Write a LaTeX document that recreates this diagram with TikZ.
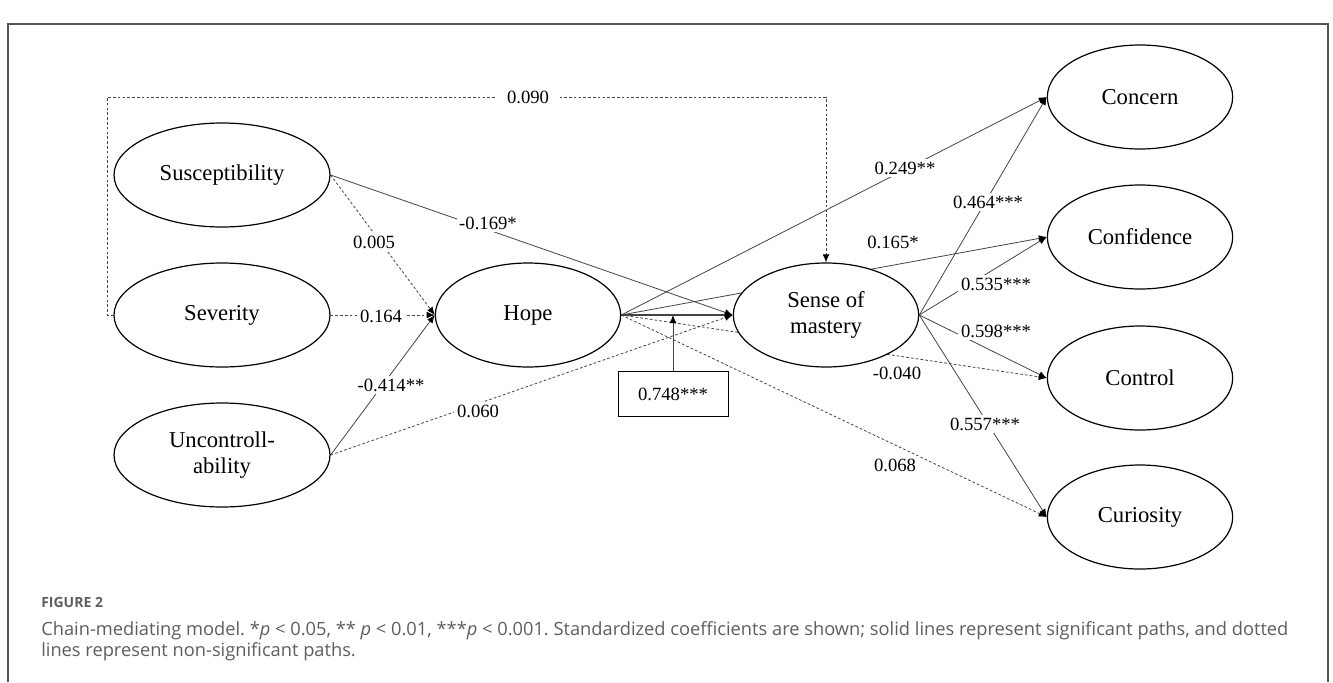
\documentclass[tikz,border=0pt]{standalone}
\usepackage{fontspec}
\setmainfont{Liberation Serif}
\newfontfamily\capfont{Open Sans}
\usetikzlibrary{shapes.geometric,arrows.meta}
\pgfdeclarelayer{paths}
\pgfsetlayers{paths,main}
\definecolor{framegray}{HTML}{555555}
\definecolor{pathgray}{HTML}{444444}
\definecolor{capgray}{HTML}{5E5E5E}
\frenchspacing
\tikzset{
	latent/.style={ellipse, draw=black, line width=0.9pt, fill=white, inner sep=0pt,
		minimum width=139pt, minimum height=78pt, align=center,
		font=\fontsize{17}{20}\selectfont},
	sigpath/.style={draw=pathgray, line width=0.6pt, -{Latex[length=6pt,width=5pt,black]}},
	nspath/.style={sigpath, dash pattern=on 2pt off 1.6pt},
	coef/.style={fill=white, inner sep=2pt, font=\fontsize{14}{16}\selectfont},
	captext/.style={anchor=base west, inner sep=0pt, text=capgray},
}
\begin{document}
\begin{tikzpicture}[x=0.75pt, y=-0.75pt]
	\useasboundingbox (0,0) rectangle (1333,682);
	\draw[framegray, line width=1.5pt] (8,682) -- (8,24) -- (1328,24) -- (1328,682);
	% latent variables
	\node[latent, minimum width=162pt] (susc) at (222,175) {Susceptibility};
	\node[latent, minimum width=162pt] (sev) at (222,315) {Severity};
	\node[latent, minimum width=162pt] (unc) at (222,455) {Uncontroll-\\ability};
	\node[latent] (hope) at (528,315) {Hope};
	\node[latent] (som) at (826,315) {Sense of\\mastery};
	\node[latent] (conc) at (1140,97) {Concern};
	\node[latent] (conf) at (1140,237) {Confidence};
	\node[latent] (ctrl) at (1140,378) {Control};
	\node[latent] (curi) at (1140,517) {Curiosity};
	\node[draw=black, line width=0.6pt, minimum width=82.5pt, minimum height=34pt,
		font=\fontsize{14}{16}\selectfont] (beta) at (673,394) {0.748***};
	\coordinate (corner) at (107,97);
	\coordinate (hit) at (beta.north |- hope.east);
	% paths
	\begin{pgfonlayer}{paths}
		\draw[nspath] (susc.east) -- (hope.west);
		\draw[nspath] (sev.east) -- (hope.west);
		\draw[sigpath] (unc.east) -- (hope.west);
		\draw[sigpath] (susc.east) -- (som.west);
		\draw[nspath] (unc.east) -- (som.west);
		\draw[nspath] (sev.west) -| (corner) -| (som.north);
		\draw[sigpath, line width=0.9pt] (hope.east) -- (som.west);
		\draw[sigpath] (hope.east) -- (conc.west);
		\draw[sigpath] (hope.east) -- (conf.west);
		\draw[nspath] (hope.east) -- (ctrl.west);
		\draw[nspath] (hope.east) -- (curi.west);
		\draw[sigpath] (som.east) -- (conc.west);
		\draw[sigpath] (som.east) -- (conf.west);
		\draw[sigpath] (som.east) -- (ctrl.west);
		\draw[sigpath] (som.east) -- (curi.west);
		\draw[sigpath] (beta.north) -- (hit);
	\end{pgfonlayer}
	% coefficients
	\node[coef, inner xsep=8pt] (c-sev-som) at (528,97) {0.090};
	\node[coef] (c-susc-hope) at (374,242) {0.005};
	\node[coef] (c-sev-hope) at (381,316) {0.164};
	\node[coef] (c-unc-hope) at (391,385) {-0.414**};
	\node[coef] (c-susc-som) at (488,223) {-0.169*};
	\node[coef] (c-unc-som) at (478,411) {0.060};
	\node[coef] (c-hope-conc) at (905,168) {0.249**};
	\node[coef] (c-som-conc) at (988,202) {0.464***};
	\node[coef] (c-hope-conf) at (893,242) {0.165*};
	\node[coef] (c-som-conf) at (996,284) {0.535***};
	\node[coef] (c-som-ctrl) at (996,331) {0.598***};
	\node[coef] (c-hope-ctrl) at (897,373) {-0.040};
	\node[coef] (c-som-curi) at (985,424) {0.557***};
	\node[coef] (c-hope-curi) at (895,465) {0.068};
	% caption
	\node[captext, font=\capfont\bfseries\fontsize{10.5}{12}\selectfont] (figno) at (41,607) {FIGURE 2};
	\node[captext, font=\capfont\fontsize{13.7}{16}\selectfont] (capa) at (41,635)
		{Chain-mediating model. *\textit{p} < 0.05, ** \textit{p} < 0.01, ***\textit{p} < 0.001. Standardized coefficients are shown; solid lines represent significant paths, and dotted};
	\node[captext, font=\capfont\fontsize{13.7}{16}\selectfont] (capb) at (41,656)
		{lines represent non-significant paths.};
\end{tikzpicture}
\end{document}
